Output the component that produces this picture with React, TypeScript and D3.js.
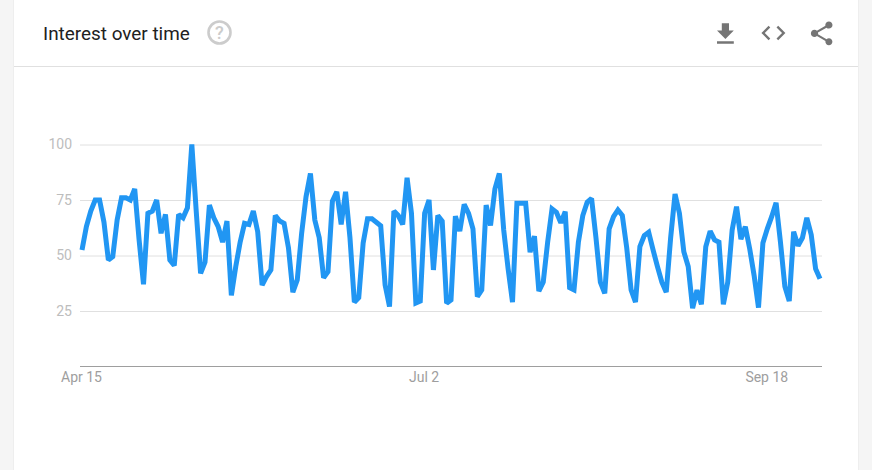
import { useRef, useEffect } from 'react';
import * as d3 from 'd3';

const interest: number[] = [
  52.5, 63, 70, 75, 75, 65, 48, 49.5, 66, 76, 76, 75, 80, 57, 37, 69, 70, 75, 60, 68.5,
  48, 45.5, 68.5, 67, 71.5, 100, 70, 42, 47, 72.7, 67, 63, 56, 65.5, 32, 45, 56, 64.5, 64, 70,
  60.7, 36.7, 40.5, 43.5, 68, 65.5, 64.5, 53.5, 33.5, 39, 60, 76.5, 87, 66, 58, 40, 42.7, 74.5, 78.7, 64,
  78.7, 58, 29, 31, 55.6, 66.5, 66.5, 65, 63.4, 36.7, 27, 70, 68, 64, 85, 69, 28.6, 29.5, 69, 75,
  43.5, 68, 65.5, 28.5, 30, 67.7, 61, 73, 69, 62, 31.5, 34.5, 72.7, 63.5, 80, 87, 61.5, 44, 29, 73.5,
  73.5, 73.5, 51.5, 58.7, 34, 38, 56, 71, 69.5, 64.7, 69.7, 35.5, 34.5, 56, 68, 74, 75.7, 58, 38, 33,
  62, 67.5, 70.5, 68, 53.5, 34.5, 29, 54, 59, 60.5, 52.5, 45, 38, 33.5, 58, 77.7, 69, 51.7, 45, 26.3,
  34.4, 28, 54, 61, 57, 56, 28, 38, 61.5, 72, 57.4, 63, 53, 41, 26.5, 55.6, 62, 67.5, 73.8, 56,
  36, 29.5, 60.7, 54.4, 58, 67, 59.4, 44, 39.5,
];
const yTicks = [25, 50, 75, 100];
const xTickDays = [0, 78, 156];
const xTickLabels = ['Apr 15', 'Jul 2', 'Sep 18'];

const ICON_DOWNLOAD = 'M19 9h-4V3H9v6H5l7 7 7-7zM5 18v2h14v-2H5z';
const ICON_CODE = 'M9.4 16.6L4.8 12l4.6-4.6L8 6l-6 6 6 6 1.4-1.4zm5.2 0l4.6-4.6-4.6-4.6L16 6l6 6-6 6-1.4-1.4z';
const ICON_SHARE = 'M18 16.08c-.76 0-1.44.3-1.96.77L8.91 12.7c.05-.23.09-.46.09-.7s-.04-.47-.09-.7l7.05-4.11c.54.5 1.25.81 2.04.81 1.66 0 3-1.34 3-3s-1.34-3-3-3-3 1.34-3 3c0 .24.04.47.09.7L8.04 9.81C7.5 9.31 6.79 9 6 9c-1.66 0-3 1.34-3 3s1.34 3 3 3c.79 0 1.5-.31 2.04-.81l7.12 4.16c-.05.21-.08.43-.08.65 0 1.61 1.31 2.92 2.92 2.92 1.61 0 2.92-1.31 2.92-2.92s-1.31-2.92-2.92-2.92z';

const FONT = 'Roboto, sans-serif';

export default function App() {
  const ref = useRef<SVGSVGElement | null>(null);

  useEffect(() => {
    const svg = d3.select(ref.current);
    svg.selectAll('*').remove();

    const W = 872;
    const H = 470;

    // Page and card
    svg.append('rect').attr('width', W).attr('height', H).attr('fill', '#f5f5f5');
    svg.append('rect').attr('x', 13).attr('y', 0).attr('width', 846).attr('height', H).attr('fill', '#eeeeee');
    svg.append('rect').attr('x', 14).attr('y', 0).attr('width', 844).attr('height', H).attr('fill', '#fff');
    svg.append('line').attr('x1', 14).attr('x2', 858).attr('y1', 66.5).attr('y2', 66.5)
      .attr('stroke', '#e0e0e0');

    // Header
    svg.append('text').attr('x', 43).attr('y', 40)
      .attr('font-family', FONT).attr('font-size', 18.9).attr('fill', '#212121')
      .text('Interest over time');
    svg.append('circle').attr('cx', 219.5).attr('cy', 32.5).attr('r', 11)
      .attr('fill', 'none').attr('stroke', '#cccccc').attr('stroke-width', 2.6);
    svg.append('text').attr('x', 219.5).attr('y', 39).attr('text-anchor', 'middle')
      .attr('font-family', FONT).attr('font-size', 18).attr('font-weight', 500).attr('fill', '#cccccc')
      .text('?');

    const icons: [string, number, number][] = [
      [ICON_DOWNLOAD, 711, 19.7],
      [ICON_CODE, 759, 18.6],
      [ICON_SHARE, 807.3, 19],
    ];
    icons.forEach(([d, x, y]) => {
      svg.append('path').attr('d', d).attr('fill', '#757575')
        .attr('transform', `translate(${x},${y}) scale(1.2)`);
    });

    // Scales
    const x = d3.scaleLinear().domain([0, interest.length - 1]).range([82, 820]);
    const y = d3.scaleLinear().domain([0, 100]).range([366.5, 144.5]);

    // Grid + y labels
    const yAxis = svg.append('g').attr('transform', 'translate(80,0)')
      .call(d3.axisLeft(y).tickValues(yTicks).tickSize(-742).tickPadding(8).tickFormat(d3.format('d')));
    yAxis.select('.domain').remove();
    yAxis.selectAll('line').attr('stroke', '#e0e0e0');
    yAxis.selectAll('text').attr('fill', '#bdbdbd').style('font-family', FONT).style('font-size', '14px');

    // Baseline + x labels
    const xAxis = svg.append('g').attr('transform', 'translate(-1,366.5)')
      .call(d3.axisBottom(x).tickValues(xTickDays).tickSize(0).tickPadding(6)
        .tickFormat((_, i) => xTickLabels[i]));
    xAxis.select('.domain').remove();
    xAxis.selectAll('text').attr('fill', '#9e9e9e').style('font-family', FONT).style('font-size', '14px');
    svg.append('line').attr('x1', 80).attr('x2', 822).attr('y1', 366.5).attr('y2', 366.5)
      .attr('stroke', '#9e9e9e');

    // Series
    const line = d3.line<number>().x((_, i) => x(i)).y(d => y(d));
    svg.append('path').datum(interest)
      .attr('fill', 'none').attr('stroke', '#2196f3').attr('stroke-width', 5)
      .attr('stroke-linejoin', 'miter').attr('stroke-miterlimit', 2)
      .attr('d', line);
  }, []);

  return <svg ref={ref} width={872} height={470} style={{ position: 'absolute', left: 0, top: 0 }} />;
}
